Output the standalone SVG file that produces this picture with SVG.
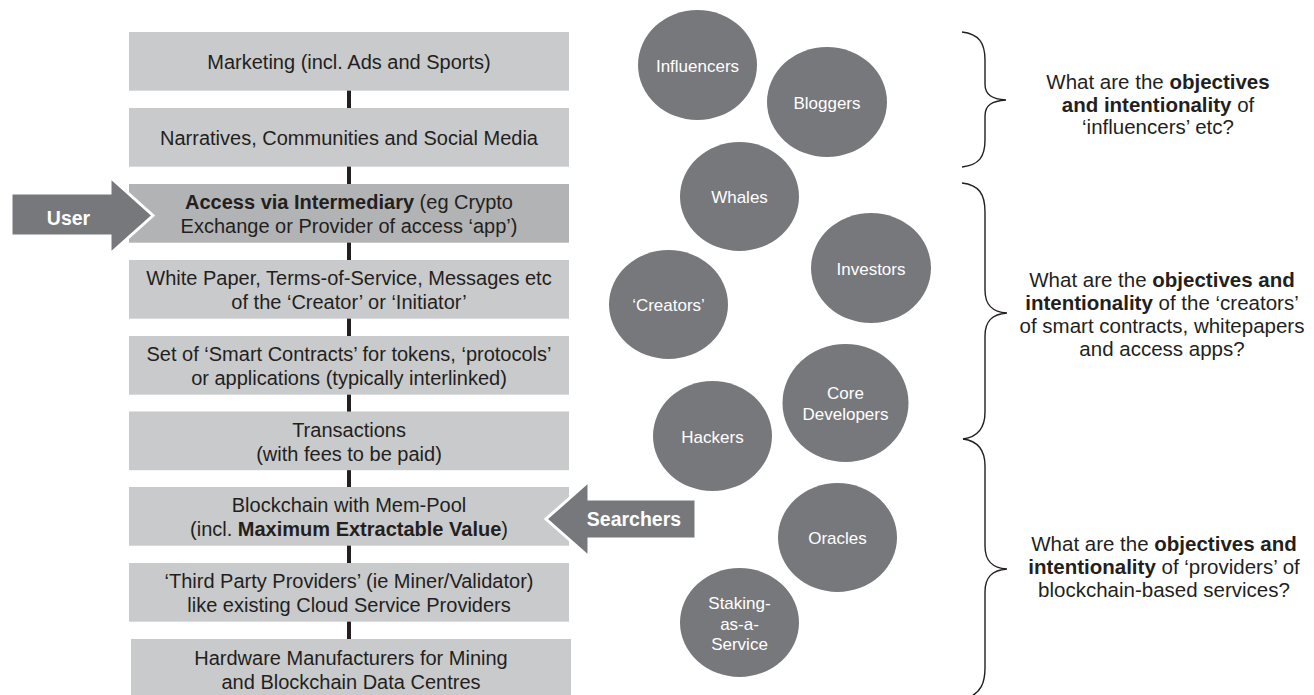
<svg xmlns="http://www.w3.org/2000/svg" width="1314" height="695" viewBox="0 0 1314 695">
  <style>
    .box { fill: #c9cacc; }
    .box-dark { fill: #b2b3b5; }
    .btxt { font-family: "Liberation Sans", Arial, sans-serif; font-size: 20px; fill: #231f20; text-anchor: middle; }
    .b { font-weight: bold; }
    .actor { fill: #77787b; }
    .ctxt { font-family: "Liberation Sans", Arial, sans-serif; font-size: 17px; fill: #ffffff; text-anchor: middle; }
    .arrow { fill: #77787b; stroke: #ffffff; stroke-width: 3; stroke-linejoin: miter; }
    .atxt { font-family: "Liberation Sans", Arial, sans-serif; font-size: 19.5px; font-weight: bold; fill: #ffffff; text-anchor: middle; }
    .link { stroke: #231f20; stroke-width: 4; fill: none; }
    .brace { stroke: #231f20; stroke-width: 1.4; fill: none; }
    .qtxt { font-family: "Liberation Sans", Arial, sans-serif; font-size: 20.5px; fill: #231f20; text-anchor: middle; }
  </style>

  <rect width="1314" height="695" fill="#ffffff"/>

  <!-- vertical links between the stack layers -->
  <g id="connectors">
    <line class="link" x1="349" y1="90" x2="349" y2="108"/>
    <line class="link" x1="349" y1="166" x2="349" y2="184"/>
    <line class="link" x1="349" y1="242" x2="349" y2="260"/>
    <line class="link" x1="349" y1="318" x2="349" y2="336"/>
    <line class="link" x1="349" y1="394" x2="349" y2="412"/>
    <line class="link" x1="349" y1="470" x2="349" y2="487"/>
    <line class="link" x1="349" y1="545" x2="349" y2="563"/>
    <line class="link" x1="349" y1="621" x2="349" y2="639"/>
  </g>

  <!-- stack layers -->
  <g id="layer-marketing">
    <rect class="box" x="129" y="32" width="440" height="58.7"/>
    <text class="btxt" x="349" y="68.5">Marketing (incl. Ads and Sports)</text>
  </g>
  <g id="layer-narratives">
    <rect class="box" x="129" y="108" width="440" height="58.7"/>
    <text class="btxt" x="349" y="144.5">Narratives, Communities and Social Media</text>
  </g>
  <g id="layer-access">
    <rect class="box-dark" x="129" y="184" width="440" height="58.7"/>
    <text class="btxt" x="349" y="209"><tspan class="b">Access via Intermediary</tspan> (eg Crypto</text>
    <text class="btxt" x="349" y="233">Exchange or Provider of access ‘app’)</text>
  </g>
  <g id="layer-whitepaper">
    <rect class="box" x="129" y="260" width="440" height="58.7"/>
    <text class="btxt" x="349" y="285">White Paper, Terms-of-Service, Messages etc</text>
    <text class="btxt" x="349" y="309">of the ‘Creator’ or ‘Initiator’</text>
  </g>
  <g id="layer-contracts">
    <rect class="box" x="129" y="336" width="440" height="58.7"/>
    <text class="btxt" x="349" y="361">Set of ‘Smart Contracts’ for tokens, ‘protocols’</text>
    <text class="btxt" x="349" y="385">or applications (typically interlinked)</text>
  </g>
  <g id="layer-transactions">
    <rect class="box" x="129" y="411.5" width="440" height="58.7"/>
    <text class="btxt" x="349" y="436.5">Transactions</text>
    <text class="btxt" x="349" y="460.5">(with fees to be paid)</text>
  </g>
  <g id="layer-blockchain">
    <rect class="box" x="129" y="487" width="440" height="58.7"/>
    <text class="btxt" x="349" y="512">Blockchain with Mem-Pool</text>
    <text class="btxt" x="349" y="536">(incl. <tspan class="b">Maximum Extractable Value</tspan>)</text>
  </g>
  <g id="layer-providers">
    <rect class="box" x="129" y="563" width="440" height="58.7"/>
    <text class="btxt" x="349" y="588">‘Third Party Providers’ (ie Miner/Validator)</text>
    <text class="btxt" x="349" y="612">like existing Cloud Service Providers</text>
  </g>
  <g id="layer-hardware">
    <rect class="box" x="131" y="639" width="440" height="56"/>
    <text class="btxt" x="351" y="664.5">Hardware Manufacturers for Mining</text>
    <text class="btxt" x="351" y="688.5">and Blockchain Data Centres</text>
  </g>

  <!-- entry arrows -->
  <g id="user">
    <path class="arrow" d="M11,193 L110,193 L110,177 L153,215.5 L110,254 L110,236 L11,236 Z"/>
    <text class="atxt" x="68.5" y="225">User</text>
  </g>
  <g id="searchers">
    <path class="arrow" d="M696,499 L589,499 L589,481 L546,519 L589,557 L589,539 L696,539 Z"/>
    <text class="atxt" x="634" y="526">Searchers</text>
  </g>

  <!-- actors -->
  <g id="actor-influencers">
    <ellipse class="actor" cx="697.5" cy="65" rx="59.5" ry="55"/>
    <text class="ctxt" x="697.5" y="72">Influencers</text>
  </g>
  <g id="actor-bloggers">
    <ellipse class="actor" cx="827" cy="102" rx="60" ry="55"/>
    <text class="ctxt" x="827" y="109">Bloggers</text>
  </g>
  <g id="actor-whales">
    <ellipse class="actor" cx="739.5" cy="196.5" rx="59.5" ry="54.5"/>
    <text class="ctxt" x="739.5" y="203">Whales</text>
  </g>
  <g id="actor-investors">
    <ellipse class="actor" cx="871" cy="268" rx="60" ry="55"/>
    <text class="ctxt" x="871" y="275">Investors</text>
  </g>
  <g id="actor-creators">
    <ellipse class="actor" cx="668.5" cy="304.5" rx="59.5" ry="54.5"/>
    <text class="ctxt" x="668.5" y="311">‘Creators’</text>
  </g>
  <g id="actor-core-developers">
    <ellipse class="actor" cx="845.5" cy="403" rx="63" ry="59"/>
    <text class="ctxt" x="845.5" y="399">Core</text>
    <text class="ctxt" x="845.5" y="420">Developers</text>
  </g>
  <g id="actor-hackers">
    <ellipse class="actor" cx="712.5" cy="436" rx="59.5" ry="55"/>
    <text class="ctxt" x="712.5" y="443">Hackers</text>
  </g>
  <g id="actor-oracles">
    <ellipse class="actor" cx="837.5" cy="537.5" rx="59.5" ry="54.5"/>
    <text class="ctxt" x="837.5" y="544">Oracles</text>
  </g>
  <g id="actor-staking">
    <ellipse class="actor" cx="739.5" cy="622.5" rx="59.5" ry="54.5"/>
    <text class="ctxt" x="739.5" y="609">Staking-</text>
    <text class="ctxt" x="739.5" y="630">as-a-</text>
    <text class="ctxt" x="739.5" y="650">Service</text>
  </g>

  <!-- grouping braces -->
  <g id="braces">
    <path class="brace" d="M962,32 C979,34 985,43 985,60 L985,84 C985,95 992,99 1006,100 C992,101 985,105 985,116 L985,140 C985,157 979,165 962,167"/>
    <path class="brace" d="M962,183 C979,185 985,194 985,212 L985,290 C985,305 992,312 1007,313 C992,314 985,321 985,336 L985,412 C985,428 978,437 963,439"/>
    <path class="brace" d="M963,439 C978,441 985,450 985,466 L985,546 C985,561 992,568 1007,569 C992,570 985,577 985,592 L985,668 C985,684 980,692 970,697"/>
  </g>

  <!-- questions -->
  <g id="question-influencers">
    <text class="qtxt" x="1158" y="89">What are the <tspan class="b">objectives</tspan></text>
    <text class="qtxt" x="1158" y="112"><tspan class="b">and intentionality</tspan> of</text>
    <text class="qtxt" x="1158" y="134">‘influencers’ etc?</text>
  </g>
  <g id="question-creators">
    <text class="qtxt" x="1162" y="287">What are the <tspan class="b">objectives and</tspan></text>
    <text class="qtxt" x="1162" y="310"><tspan class="b">intentionality</tspan> of the ‘creators’</text>
    <text class="qtxt" x="1162" y="333">of smart contracts, whitepapers</text>
    <text class="qtxt" x="1162" y="356">and access apps?</text>
  </g>
  <g id="question-providers">
    <text class="qtxt" x="1164" y="551">What are the <tspan class="b">objectives and</tspan></text>
    <text class="qtxt" x="1164" y="574"><tspan class="b">intentionality</tspan> of ‘providers’ of</text>
    <text class="qtxt" x="1164" y="597">blockchain-based services?</text>
  </g>
</svg>
